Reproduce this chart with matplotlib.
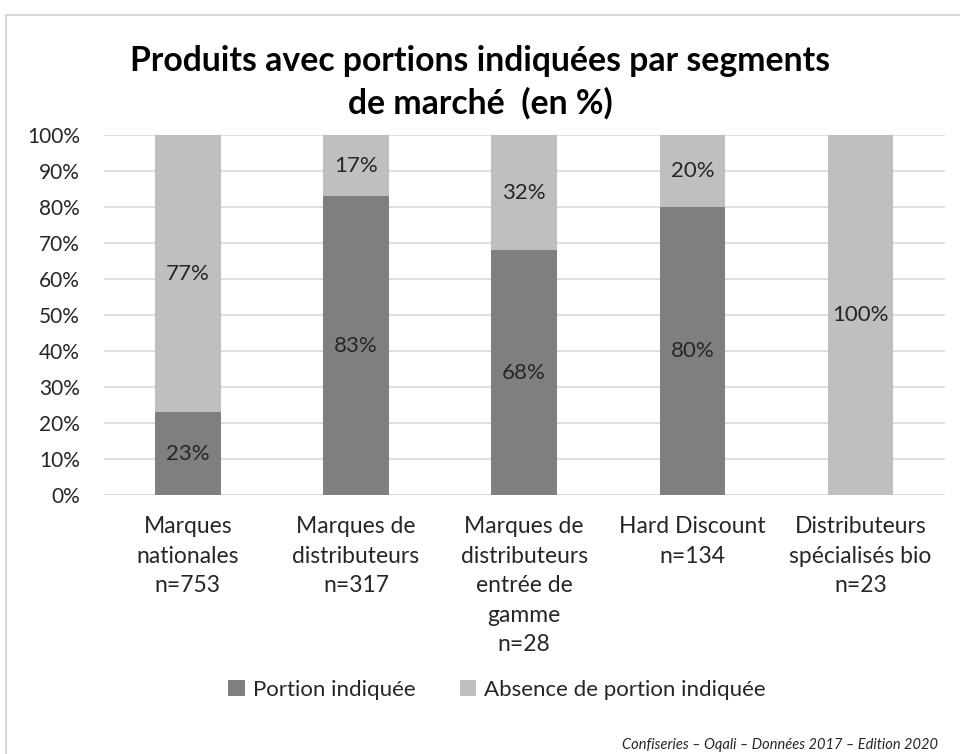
import numpy as np
import matplotlib.pyplot as plt
from matplotlib.patches import Rectangle

# Data
categories = ["Marques\nnationales\nn=753",
              "Marques de\ndistributeurs\nn=317",
              "Marques de\ndistributeurs\nentrée de\ngamme\nn=28",
              "Hard Discount\nn=134",
              "Distributeurs\nspécialisés bio\nn=23"]
portion = [23, 83, 68, 80, 0]
absence = [77, 17, 32, 20, 100]
series_names = ["Portion indiquée", "Absence de portion indiquée"]
colors = ["#7f7f7f", "#bfbfbf"]

plt.rcParams['font.family'] = ['Lato', 'DejaVu Sans']

fig = plt.figure(figsize=(9.6, 7.54), dpi=100)
ax = fig.add_axes([0.108, 0.343, 0.876, 0.478])

# light frame around chart area
fig.patches.append(Rectangle((6 / 960, -0.05), 1.0, 1 - 15 / 754 + 0.05,
                             transform=fig.transFigure, fill=False,
                             edgecolor="#d9d9d9", linewidth=1.5))

x = np.arange(len(categories))
w = 0.39
b1 = ax.bar(x, portion, w, color=colors[0], label=series_names[0], zorder=3)
b2 = ax.bar(x, absence, w, bottom=portion, color=colors[1], label=series_names[1], zorder=3)

for bars, vals, bottoms in [(b1, portion, [0] * 5), (b2, absence, portion)]:
    for rect, v, b in zip(bars, vals, bottoms):
        if v > 0:
            ax.text(rect.get_x() + rect.get_width() / 2, b + v / 2, f"{v}%",
                    ha="center", va="center", fontsize=16, color="#262626", zorder=4)

ax.set_xlim(-0.5, len(categories) - 0.5)
ax.set_ylim(0, 100)
ax.set_yticks(np.arange(0, 101, 10))
ax.set_yticklabels([f"{v}%" for v in range(0, 101, 10)], fontsize=15, color="#262626")
ax.set_xticks(x)
ax.set_xticklabels(categories, fontsize=16.5, color="#262626", linespacing=1.5)
ax.tick_params(axis="both", length=0)
ax.tick_params(axis="x", pad=15)
ax.tick_params(axis="y", pad=17)
ax.yaxis.grid(True, color="#d9d9d9", linewidth=1.2, zorder=0)
for s in ax.spines.values():
    s.set_visible(False)

fig.text(0.5, 1 - 61 / 754, "Produits avec portions indiquées par segments", ha="center",
         va="center", fontsize=24.3, fontweight="bold", color="black")
fig.text(0.5, 1 - 103 / 754, "de marché  (en %)", ha="center", va="center",
         fontsize=24.3, fontweight="bold", color="black")

fig.legend(handles=[b1, b2], labels=series_names, loc="center",
           bbox_to_anchor=(497 / 960, 1 - 690 / 754), ncol=2, frameon=False,
           fontsize=16, handlelength=0.75, handleheight=0.75, handletextpad=0.35,
           columnspacing=2.0, labelcolor="#262626")

fig.text(938 / 960, 1 - 745 / 754, "Confiseries – Oqali – Données 2017 – Edition 2020",
         ha="right", va="center", fontsize=10.5, style="italic", color="#262626")

fig.savefig("out.png", dpi=100)
